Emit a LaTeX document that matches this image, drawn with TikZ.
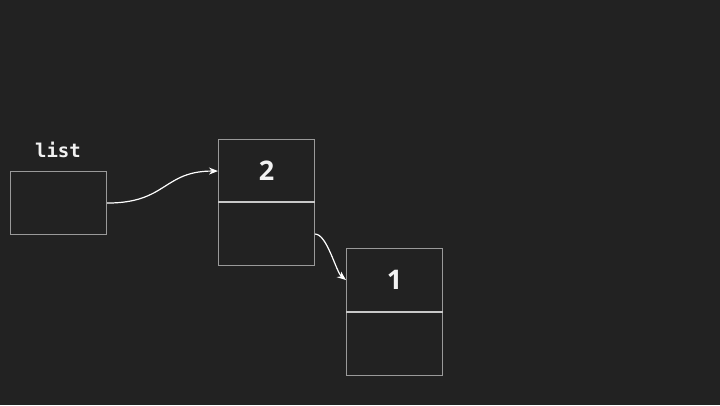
\documentclass[tikz,border=0pt]{standalone}
\usepackage{fontspec}
\setmainfont{Open Sans}
\newfontfamily\monof{DejaVu Sans Mono}
\usetikzlibrary{arrows.meta}
\definecolor{bg}{HTML}{222222}
\definecolor{boxc}{HTML}{9A9A9A}
\definecolor{divc}{HTML}{C8C8C8}
\definecolor{txt}{HTML}{F2F2F2}
\begin{document}
\begin{tikzpicture}[x=1pt,y=-1pt,
  cell/.style={draw=boxc,line width=1.1pt,minimum width=96pt,minimum height=63pt,inner sep=0pt,anchor=north west,text=txt,font=\bfseries\fontsize{27}{27}\selectfont},
  link/.style={draw=white,line width=1.2pt,-{Stealth[length=9pt,width=7pt]}}]
\fill[bg] (0,0) rectangle (720,405);
\useasboundingbox (0,0) rectangle (720,405);
\node[cell] (lst) at (10,171) {};
\node[text=txt,font=\monof\bfseries\fontsize{19}{19}\selectfont] (lbl) at (58,150) {list};
\node[cell] (a) at (218,139) {2};
\node[cell] (ap) at (218,202) {};
\node[cell] (b) at (346,248) {1};
\node[cell] (bp) at (346,312) {};
\draw[divc,line width=1.1pt] (ap.north west) -- (ap.north east);
\draw[divc,line width=1.1pt] (bp.north west) -- (bp.north east);
\draw[link] (lst.east) .. controls +(60,0) and +(-55,0) .. (a.west);
\draw[link] (ap.east) .. controls +(12,0) and +(-10,-8) .. (b.west);
\end{tikzpicture}
\end{document}
